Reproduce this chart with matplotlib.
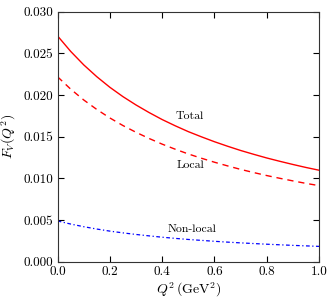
import numpy as np
import matplotlib
matplotlib.use("Agg")
import matplotlib.pyplot as plt

# values
q2 = [0.0, 0.05, 0.1, 0.15, 0.2, 0.25, 0.3, 0.35, 0.4, 0.45, 0.5,
      0.55, 0.6, 0.65, 0.7, 0.75, 0.8, 0.85, 0.9, 0.95, 1.0]
total = [0.0271, 0.02525, 0.02363, 0.02221, 0.02094, 0.01982, 0.01882, 0.01791, 0.01707, 0.01632, 0.01562,
         0.01500, 0.01441, 0.01387, 0.01336, 0.01290, 0.01246, 0.01206, 0.01168, 0.01132, 0.01099]
local = [0.0222, 0.02072, 0.01942, 0.01828, 0.01726, 0.01635, 0.01554, 0.01480, 0.01412, 0.01351, 0.01294,
         0.01243, 0.01195, 0.01151, 0.01109, 0.01071, 0.01035, 0.01002, 0.00971, 0.00941, 0.00914]
nonlocal_ = [0.0049, 0.00453, 0.00421, 0.00393, 0.00368, 0.00347, 0.00328, 0.00311, 0.00295, 0.00281, 0.00268,
             0.00257, 0.00246, 0.00236, 0.00227, 0.00219, 0.00211, 0.00204, 0.00197, 0.00191, 0.00185]

plt.rcParams["font.family"] = ["cmr10", "DejaVu Serif"]
plt.rcParams["mathtext.fontset"] = "cm"
plt.rcParams["axes.formatter.use_mathtext"] = True

fig = plt.figure(figsize=(3.33, 3.03), dpi=100)
ax = fig.add_axes([0.173, 0.136, 0.785, 0.825])

ax.plot(q2, total, color="red", lw=1.0, ls="-")
ax.plot(q2, local, color="red", lw=1.0, ls=(0, (4.5, 3.5)))
ax.plot(q2, nonlocal_, color="blue", lw=0.9, ls=(0, (3, 2, 1, 2)))

ax.text(0.45, 0.0175, "Total", fontsize=8.5, va="center")
ax.text(0.455, 0.0116, "Local", fontsize=8.5, va="center")
ax.text(0.42, 0.0039, "Non-local", fontsize=8.5, va="center")

ax.set_xlim(0, 1)
ax.set_ylim(0, 0.030)
ax.set_xticks([0.0, 0.2, 0.4, 0.6, 0.8, 1.0])
ax.set_yticks([0.0, 0.005, 0.010, 0.015, 0.020, 0.025, 0.030])
ax.set_xticklabels(["0.0", "0.2", "0.4", "0.6", "0.8", "1.0"])
ax.set_yticklabels(["0.000", "0.005", "0.010", "0.015", "0.020", "0.025", "0.030"])
ax.tick_params(direction="in", top=True, right=True, length=4, labelsize=9.5, pad=3)
for s in ax.spines.values():
    s.set_color("#333333")

ax.set_xlabel(r"$Q^2\,(\mathrm{GeV}^2)$", fontsize=10, labelpad=2)
ax.set_ylabel(r"$F_V(Q^2)$", fontsize=10, labelpad=4)

fig.savefig("out.png", dpi=100)
